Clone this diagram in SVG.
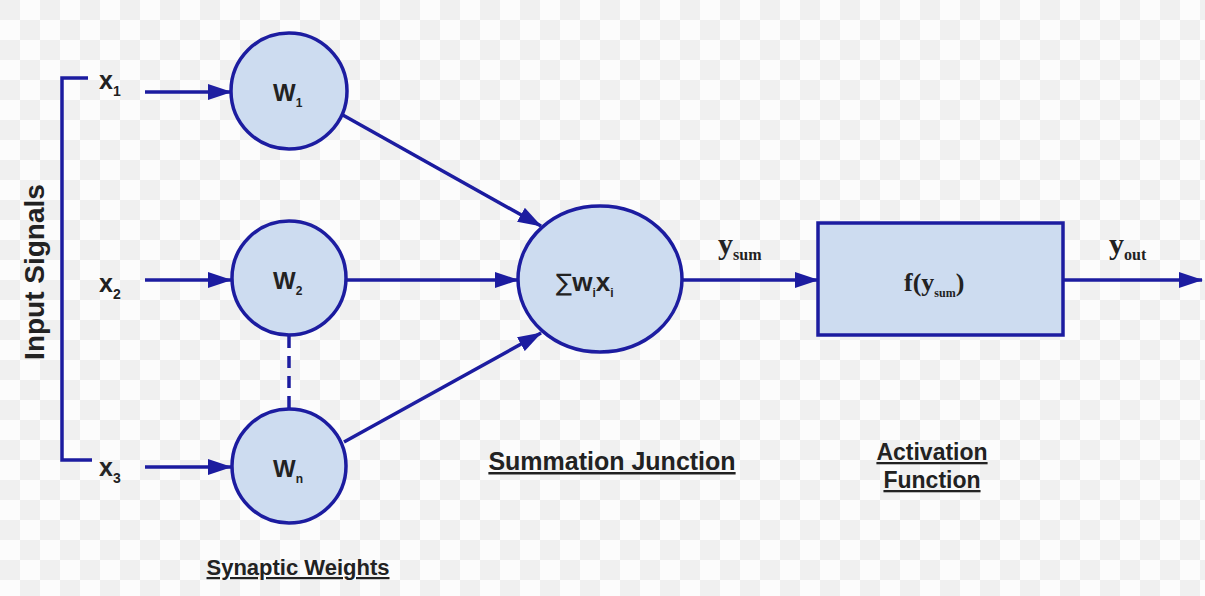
<svg xmlns="http://www.w3.org/2000/svg" width="1205" height="596" viewBox="0 0 1205 596">
<defs>
<pattern id="chk" width="40" height="40" patternUnits="userSpaceOnUse">
<rect width="40" height="40" fill="#fcfcfc"/>
<rect width="20" height="20" fill="#f0f0f0"/>
<rect x="20" y="20" width="20" height="20" fill="#f0f0f0"/>
</pattern>
<marker id="arr" viewBox="0 0 24 16" refX="23" refY="8" markerWidth="24" markerHeight="16" markerUnits="userSpaceOnUse" orient="auto">
<path d="M0,0 L24,8 L0,16 Z" fill="#1c1ca0"/>
</marker>
<style>
.ln{stroke:#1c1ca0;stroke-width:3.5;fill:none}
.nd{fill:#cddcf0;stroke:#1c1ca0;stroke-width:3.5}
.lb{font-family:"Liberation Sans",Arial,sans-serif;font-weight:bold;fill:#222}
.sr{font-family:"Liberation Serif","Times New Roman",serif;font-weight:bold;fill:#222}
.ul{font-family:"Liberation Sans",Arial,sans-serif;font-weight:bold;fill:#222;text-decoration:underline}
</style>
</defs>
<rect width="1205" height="596" fill="url(#chk)"/>

<g id="connectors">
<path class="ln" d="M88,78 H62 V460 H92"/>
<line class="ln" x1="145" y1="92" x2="231" y2="92" marker-end="url(#arr)"/>
<line class="ln" x1="145" y1="280" x2="231" y2="280" marker-end="url(#arr)"/>
<line class="ln" x1="145" y1="467" x2="231" y2="467" marker-end="url(#arr)"/>
<line class="ln" x1="289" y1="336" x2="289" y2="408" stroke-dasharray="12,8"/>
<line class="ln" x1="341" y1="114" x2="541" y2="226" marker-end="url(#arr)"/>
<line class="ln" x1="347" y1="280" x2="518" y2="280" marker-end="url(#arr)"/>
<line class="ln" x1="344" y1="442" x2="541" y2="333" marker-end="url(#arr)"/>
<line class="ln" x1="682" y1="280" x2="818" y2="280" marker-end="url(#arr)"/>
<line class="ln" x1="1063" y1="280" x2="1202" y2="280" marker-end="url(#arr)"/>
</g>

<g id="input-signals">
<text class="lb" font-size="28" transform="translate(44,272) rotate(-90)" text-anchor="middle">Input Signals</text>
<text class="lb" font-size="25" x="99" y="89">x<tspan font-size="14" dy="7">1</tspan></text>
<text class="lb" font-size="25" x="99" y="292">x<tspan font-size="14" dy="7">2</tspan></text>
<text class="lb" font-size="25" x="99" y="476">x<tspan font-size="14" dy="7">3</tspan></text>
</g>

<g id="w1">
<circle class="nd" cx="289" cy="91" r="58"/>
<text class="lb" font-size="24" x="273" y="101">W<tspan font-size="12" dy="6">1</tspan></text>
</g>
<g id="w2">
<circle class="nd" cx="289" cy="278" r="57"/>
<text class="lb" font-size="24" x="273" y="289">W<tspan font-size="12" dy="6">2</tspan></text>
</g>
<g id="wn">
<circle class="nd" cx="289" cy="466" r="57"/>
<text class="lb" font-size="24" x="273" y="477">W<tspan font-size="12" dy="6">n</tspan></text>
</g>

<g id="summation">
<ellipse class="nd" cx="600" cy="279" rx="82" ry="73"/>
<text class="lb" font-size="26" x="556" y="291"><tspan font-weight="normal" font-family="DejaVu Sans, sans-serif" font-size="24">∑</tspan>w<tspan font-size="12" dy="6">i</tspan><tspan dy="-6">x</tspan><tspan font-size="12" dy="6">i</tspan></text>
<text class="ul" font-size="25" x="612" y="470" text-anchor="middle">Summation Junction</text>
</g>

<g id="activation">
<rect class="nd" x="818" y="223" width="245" height="112"/>
<text class="sr" font-size="26" x="904" y="291">f(y<tspan font-size="12" dy="6">sum</tspan><tspan dy="-6">)</tspan></text>
<text class="ul" font-size="23" x="932" y="460" text-anchor="middle">Activation</text>
<text class="ul" font-size="23" x="932" y="488" text-anchor="middle">Function</text>
</g>

<g id="labels">
<text class="sr" font-size="30" x="718" y="254">y<tspan font-size="16" dy="6">sum</tspan></text>
<text class="sr" font-size="30" x="1109" y="254">y<tspan font-size="16" dy="6">out</tspan></text>
<text class="ul" font-size="22" x="298" y="575" text-anchor="middle">Synaptic Weights</text>
</g>
</svg>
